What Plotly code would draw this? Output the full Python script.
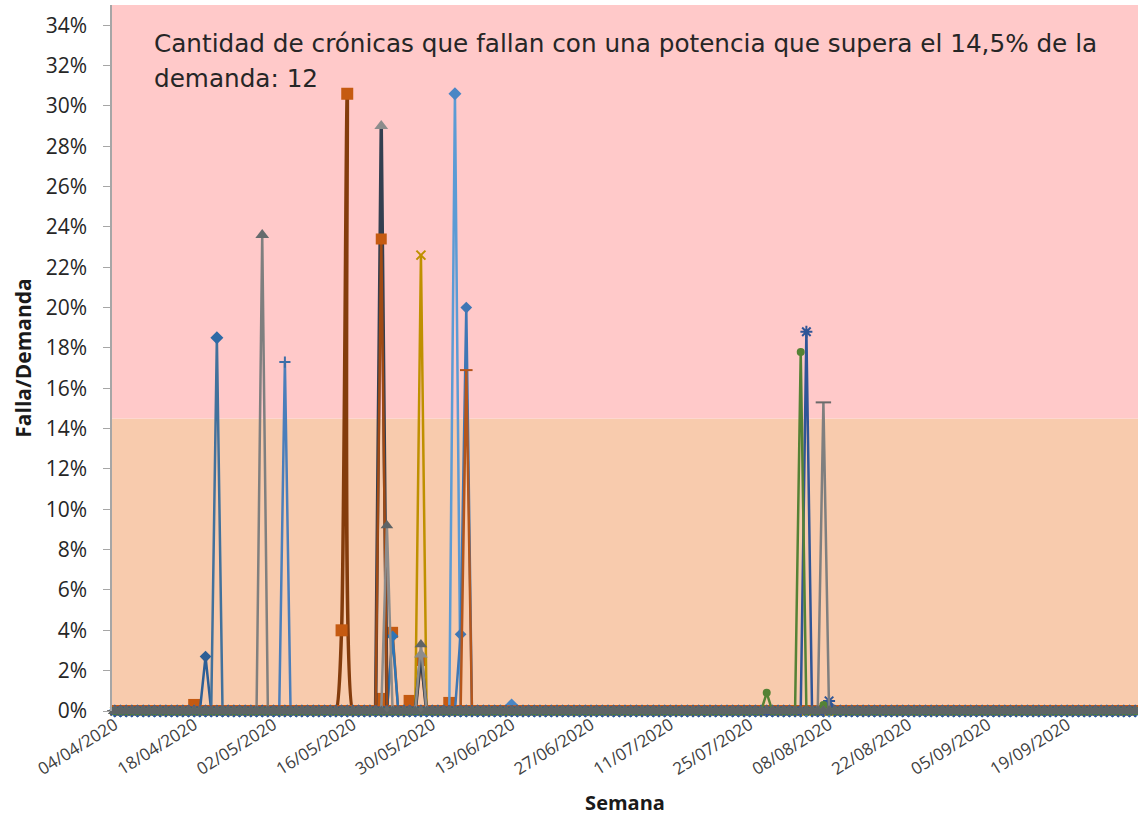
import pandas as pd
import plotly.graph_objects as go

# Daily dates covered by the report
start_date = "2020-04-04"
n_days = 181
dates = pd.date_range(start_date, periods=n_days, freq="D")

# Failure / demand per feeder: {day index from start_date: value}; all other days are 0
s01 = {16: 0.027}
s02 = {18: 0.185}
s03 = {26: 0.236}
s04 = {30: 0.173}
s05 = {49: 0.037}
s06 = {40: 0.040, 41: 0.306}
s07 = {47: 0.290, 54: 0.028}
s08 = {47: 0.234}
s09 = {14: 0.003, 47: 0.006, 52: 0.005, 59: 0.004}
s10 = {49: 0.039, 54: 0.025}
s11 = {48: 0.092, 54: 0.033}
s12 = {54: 0.226}
s13 = {60: 0.306, 70: 0.003}
s14 = {61: 0.038, 62: 0.200}
s15 = {62: 0.169}
s16 = {115: 0.009, 121: 0.178, 125: 0.003}
s17 = {122: 0.188, 126: 0.005}
s18 = {125: 0.153}

threshold = 0.145
note_lines = ["Cantidad de crónicas que fallan con una potencia que supera el 14,5% de la",
              "demanda: 12"]

# (values, line colour, marker colour, marker symbol, marker size, line width, shape, clip)
series = [
    (s09, "#C55A11", "#C55A11", "square", 12, 2.5, "linear", True),
    (s06, "#843C0C", "#C55A11", "square", 12, 3.5, "spline", True),
    (s10, "#C55A11", "#C55A11", "square", 11, 2.5, "linear", True),
    (s01, "#2E5F96", "#2E5F96", "diamond", 9, 2.5, "linear", False),
    (s02, "#41719C", "#2E6AA6", "diamond", 10, 2.5, "linear", False),
    (s04, "#4A7EBB", "#3D6FA8", "cross-thin", 8, 2.5, "linear", False),
    (s05, "#2E75B6", "#2E75B6", "diamond", 9, 2.5, "linear", False),
    (s13, "#5B9BD5", "#4A86C5", "diamond", 10, 2.5, "linear", False),
    (s14, "#3F77B5", "#3F77B5", "diamond", 9, 2.5, "linear", False),
    (s15, "#B5561B", "#B5561B", "line-ew", 9, 2.5, "linear", False),
    (s12, "#BF9000", "#BF9000", "x-thin", 9, 2.5, "linear", False),
    (s07, "#333F50", "#8C8C8C", "triangle-up", 12, 3.5, "linear", False),
    (s08, "#A04A14", "#C55A11", "square", 11, 2.5, "linear", True),
    (s17, "#2F5597", "#2F5597", "asterisk", 10, 2.5, "linear", False),
    (s16, "#548235", "#548235", "circle", 8, 2.5, "linear", False),
    (s18, "#7F7F7F", "#6A6A6A", "line-ew", 11, 2.5, "linear", False),
    (s03, "#7F7F7F", "#666B6D", "triangle-up", 12, 2.5, "linear", False),
    (s11, "#8C8C8C", "#5E6466", "triangle-up", 11, 2.5, "linear", False),
]

fig = go.Figure()
for spikes, lcol, mcol, sym, msize, lw, shape, clip in series:
    values = [spikes.get(i, 0.0) for i in range(n_days)]
    thin = sym in ("cross-thin", "x-thin", "asterisk", "line-ew")
    fig.add_trace(go.Scatter(
        x=dates, y=values, mode="lines+markers",
        line=dict(color=lcol, width=lw, shape=shape, smoothing=0.6),
        marker=dict(symbol=sym, size=msize, color=mcol,
                    line=dict(width=2 if thin else 0, color=mcol)),
        cliponaxis=clip, showlegend=False, hoverinfo="skip",
    ))

font_family = "'Open Sans', Lato, sans-serif"

# Two bands: below and above the 14.5% threshold
fig.add_shape(type="rect", xref="paper", yref="y", x0=0, x1=1, y0=0, y1=threshold,
              fillcolor="#F8CBAD", line_width=0, layer="below")
fig.add_shape(type="rect", xref="paper", yref="y", x0=0, x1=1, y0=threshold, y1=0.35,
              fillcolor="#FFC9C9", line_width=0, layer="below")

for text, ypos in zip(note_lines, [0.9448, 0.8952]):
    fig.add_annotation(text=text, xref="paper", yref="paper", x=0.039, y=ypos,
                       xanchor="left", yanchor="middle", align="left", showarrow=False,
                       font=dict(family="'DejaVu Sans', sans-serif", size=24.7, color="#262626"))

fig.update_layout(
    width=1138, height=818,
    margin=dict(l=112, r=0, t=5, b=107),
    paper_bgcolor="white", plot_bgcolor="white",
    font=dict(family=font_family, color="#262626"),
)
fig.update_xaxes(
    range=["2020-04-03 12:00", "2020-10-01 12:00"],
    tickmode="linear", tick0=start_date, dtick=14 * 86400000,
    tickformat="%d/%m/%Y", tickangle=-32,
    tickfont=dict(size=17, color="#404040"),
    showgrid=False, zeroline=False, showline=False, ticks="",
    title=dict(text="Semana", font=dict(size=20, weight="bold", color="#1a1a1a"), standoff=17),
)
fig.update_yaxes(
    range=[0, 0.35], tickformat=".0%", tickmode="linear", tick0=0, dtick=0.02,
    tickfont=dict(size=21, color="#262626"), ticklabelstandoff=12,
    showgrid=False, zeroline=False, showline=True, linecolor="#A6A6A6", linewidth=1.5,
    ticks="outside", ticklen=7, tickcolor="#A6A6A6",
    title=dict(text="Falla/Demanda", font=dict(size=21, weight="bold", color="#1a1a1a"), standoff=8),
)

fig.write_html("out.html")
